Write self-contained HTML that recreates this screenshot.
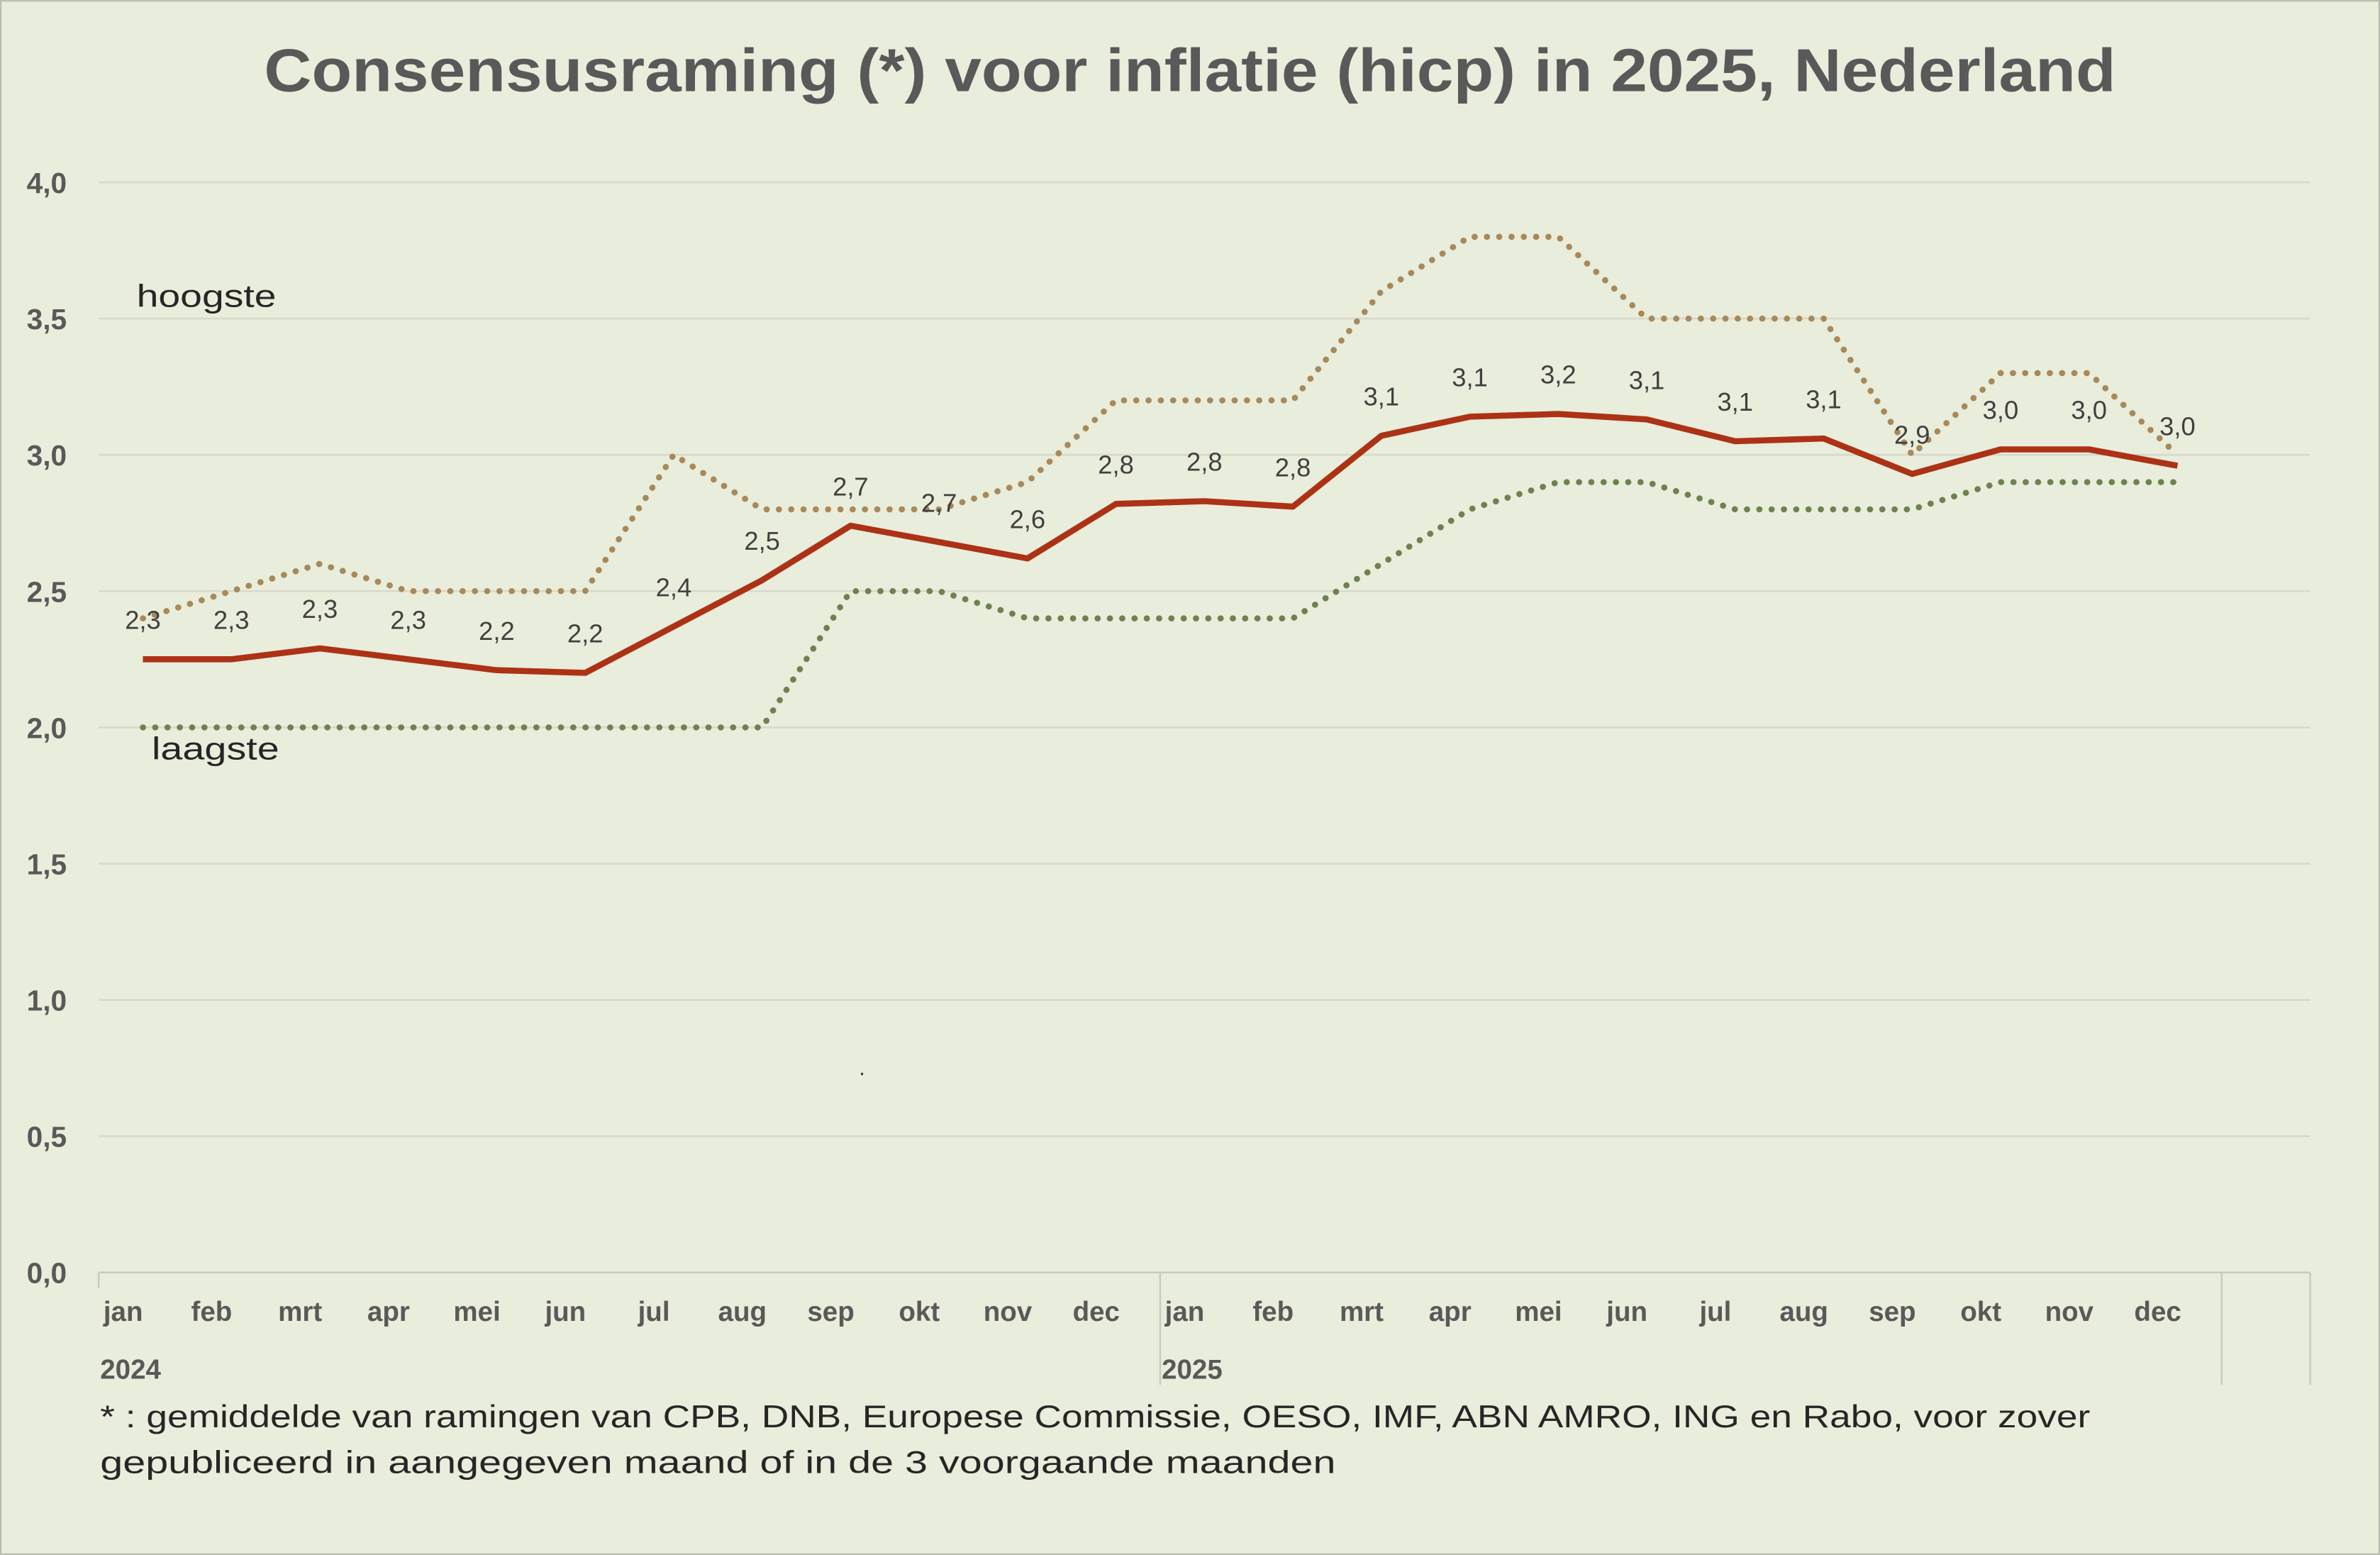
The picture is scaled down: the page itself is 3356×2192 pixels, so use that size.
<!DOCTYPE html>
<html><head><meta charset="utf-8">
<style>
html,body{margin:0;padding:0;background:#e9eddb;}
svg{display:block;}
text{font-family:"Liberation Sans","DejaVu Sans",sans-serif;}
</style></head>
<body>
<svg id="chart" width="3356" height="2192" viewBox="0 0 1568 1024" xmlns="http://www.w3.org/2000/svg">
<rect x="0.5" y="0.5" width="1567" height="1023" fill="#e9eddb" stroke="#b8bcae" stroke-width="1"/>
<text x="174" y="60" font-size="40" font-weight="bold" fill="#595959" textLength="1220" lengthAdjust="spacingAndGlyphs">Consensusraming (*) voor inflatie (hicp) in 2025, Nederland</text>
<g id="grid"></g>
<g id="series"></g>
<g id="labels"></g>
<text x="90" y="202" font-size="21" fill="#262626" textLength="92" lengthAdjust="spacingAndGlyphs">hoogste</text>
<text x="100" y="500" font-size="21" fill="#262626" textLength="84" lengthAdjust="spacingAndGlyphs">laagste</text>
<text x="566" y="708" font-size="14" fill="#262626">.</text>
<text x="66" y="940" font-size="21" fill="#262626" textLength="1311" lengthAdjust="spacingAndGlyphs">* : gemiddelde van ramingen van CPB, DNB, Europese Commissie, OESO, IMF, ABN AMRO, ING en Rabo, voor zover</text>
<text x="66" y="970" font-size="21" fill="#262626" textLength="814" lengthAdjust="spacingAndGlyphs">gepubliceerd in aangegeven maand of in de 3 voorgaande maanden</text>
</svg>
<script>
const months = ["jan","feb","mrt","apr","mei","jun","jul","aug","sep","okt","nov","dec","jan","feb","mrt","apr","mei","jun","jul","aug","sep","okt","nov","dec"];
const years = ["2024","2025"];
const meanValues = [2.25,2.25,2.29,2.25,2.21,2.20,2.37,2.54,2.74,2.68,2.62,2.82,2.83,2.81,3.07,3.14,3.15,3.13,3.05,3.06,2.93,3.02,3.02,2.96];
const meanLabels = ["2,3","2,3","2,3","2,3","2,2","2,2","2,4","2,5","2,7","2,7","2,6","2,8","2,8","2,8","3,1","3,1","3,2","3,1","3,1","3,1","2,9","3,0","3,0","3,0"];
const highValues = [2.4,2.5,2.6,2.5,2.5,2.5,3.0,2.8,2.8,2.8,2.9,3.2,3.2,3.2,3.6,3.8,3.8,3.5,3.5,3.5,3.0,3.3,3.3,3.0];
const lowValues = [2.0,2.0,2.0,2.0,2.0,2.0,2.0,2.0,2.5,2.5,2.4,2.4,2.4,2.4,2.6,2.8,2.9,2.9,2.8,2.8,2.8,2.9,2.9,2.9];
const yTicks = [0,0.5,1.0,1.5,2.0,2.5,3.0,3.5,4.0];
const yTickLabels = ["0,0","0,5","1,0","1,5","2,0","2,5","3,0","3,5","4,0"];

const NS="http://www.w3.org/2000/svg";
const plotLeft=65,plotRight=1522,plotTop=120,plotBottom=838,slots=25;
const slotW=(plotRight-plotLeft)/slots;
const xPos=i=>plotLeft+slotW*(i+0.5);
const yPos=v=>plotBottom-(v/4)*(plotBottom-plotTop);
function mk(tag,attrs,parent){const e=document.createElementNS(NS,tag);for(const k in attrs)e.setAttribute(k,attrs[k]);parent.appendChild(e);return e;}
const gridG=document.getElementById('grid'),seriesG=document.getElementById('series'),labelsG=document.getElementById('labels');

yTicks.forEach((t,i)=>{
  const l=mk('line',{x1:plotLeft,x2:plotRight,y1:yPos(t),y2:yPos(t),stroke:t===0?'#c8ccbc':'#d6d9cc','stroke-width':1.2},gridG);
  
  
  const tx=mk('text',{x:44,y:yPos(t)+7,'text-anchor':'end','font-size':19,'font-weight':'bold',fill:'#595959'},gridG);
  tx.textContent=yTickLabels[i];
  
  
});
[0,12,24,25].forEach(k=>{
  const xx=plotLeft+slotW*k;
  const l=mk('line',{x1:xx,x2:xx,y1:plotBottom,y2:k===0?plotBottom+10:912,stroke:'#c8ccbc','stroke-width':1.2},gridG);
  
  
});
months.forEach((m,i)=>{
  const t=mk('text',{x:xPos(i)-13,y:870,'text-anchor':'middle','font-size':18,'font-weight':'bold',fill:'#595959'},labelsG);
  t.textContent=m;
  
  
});
years.forEach((yr,i)=>{
  const t=mk('text',{x:plotLeft+slotW*12*i+1,y:908,'font-size':18,'font-weight':'bold',fill:'#595959'},labelsG);
  t.textContent=yr;
  
  
});
function pts(arr){return arr.map((v,i)=>xPos(i)+','+yPos(v)).join(' ');}
const hi=mk('polyline',{points:pts(highValues),fill:'none',stroke:'#a8895a','stroke-width':4,'stroke-dasharray':'0.1 8','stroke-linecap':'round'},seriesG);


const lo=mk('polyline',{points:pts(lowValues),fill:'none',stroke:'#6e8250','stroke-width':4,'stroke-dasharray':'0.1 8','stroke-linecap':'round'},seriesG);


const mn=mk('polyline',{points:pts(meanValues),fill:'none',stroke:'#ac3216','stroke-width':4,'stroke-linejoin':'round'},seriesG);


meanValues.forEach((v,i)=>{
  const t=mk('text',{x:xPos(i),y:yPos(v)-20,'text-anchor':'middle','font-size':17,fill:'#404040'},labelsG);
  t.textContent=meanLabels[i];
  
  
});
</script>
</body></html>
